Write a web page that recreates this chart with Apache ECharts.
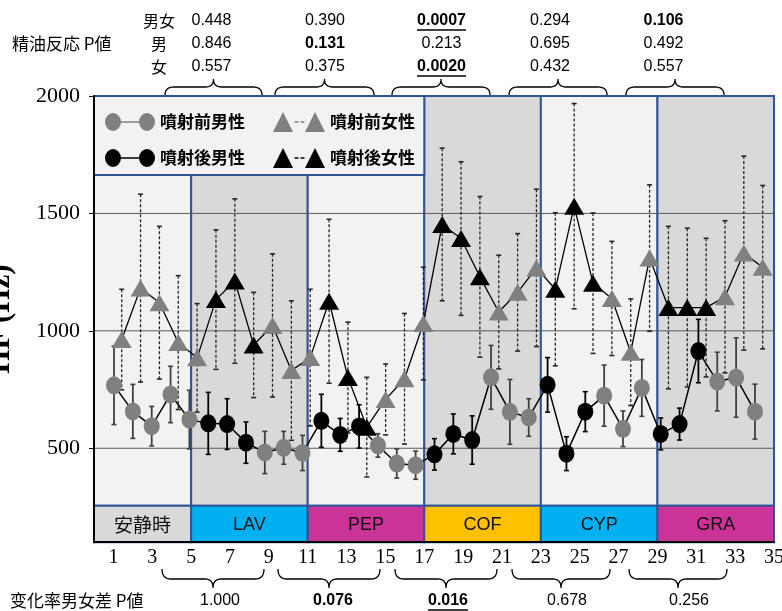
<!DOCTYPE html>
<html><head><meta charset="utf-8">
<script src="https://cdn.jsdelivr.net/npm/echarts@6/dist/echarts.min.js"></script>
<style>html,body{margin:0;padding:0;background:#fff}#c{width:782px;height:611px}</style>
</head><body><div id="c"></div>
<script>
// ---------------- data ----------------
const measures = [1,2,3,4,5,6,7,8,9,10,11,12,13,14,15,16,17,18,19,20,21,22,23,24,25,26,27,28,29,30,31,32,33,34,35];
const phase = ['前','前','前','前','前','後','後','後','前','前','前','後','後','後','前','前','前','後','後','後','前','前','前','後','後','後','前','前','前','後','後','後','前','前','前'];
const menMean = [768,657,594,729,622, 606,603,524, 482,502,480, 617,557,593, 512,435,428, 474,561,535, 802,655,631, 770,477,656, 724,583,757, 561,603,914, 784,801,656];
const menErr  = [167,115,84,120,125, 132,108,88, 90,70,75, 113,70,92, 50,62,60, 67,85,103, 136,138,80, 116,72,85, 130,76,121, 68,68,135, 125,169,117];
const womenMean = [963,1182,1120,950,885, 1133,1212,940, 1023,831,886, 1126,801,590, 708,796,1031, 1453,1393,1230, 1080,1164,1268, 1177,1531,1203, 1138,909,1310, 1099,1099,1099, 1145,1331,1271];
const womenErr  = [214,400,325,285,231, 297,350,224, 305,297,291, 349,236,212, 151,278,240, 325,327,342, 242,250,335, 326,437,299, 243,227,312, 346,338,295, 324,413,348];
const sessionNames = ['安静時','LAV','PEP','COF','CYP','GRA'];
const sessionBounds = [0,5,11,17,23,29,35];
const yTicks = [500,1000,1500,2000];
const gridValues = [500,1000,1500];
const pRowLabels = ['男女','男','女'];
const pBoth  = ['0.448','0.390','0.0007','0.294','0.106'];
const pMen   = ['0.846','0.131','0.213','0.695','0.492'];
const pWomen = ['0.557','0.375','0.0020','0.432','0.557'];
const pDiff  = ['1.000','0.076','0.016','0.678','0.256'];

// ---------------- layout / style ----------------
const yMin = 100, yMax = 2000, bandTop = 255, legendBoxBottom = 1664, legendBoxEnd = 17;
const sectionBg = ['#f2f2f2','#d9d9d9','#f2f2f2','#d9d9d9','#f2f2f2','#d9d9d9'];
const bandColors = ['#d9d9d9','#00b0f0','#cc3399','#ffc000','#00b0f0','#cc3399'];
const BLUE = '#2f5597';
const CJK = '"Noto Sans CJK JP"';
const SERIF = '"Liberation Serif"';

function hasFont(name){
  const c = document.createElement('canvas').getContext('2d');
  c.font = '40px monospace'; const w1 = c.measureText('0.448 LAV').width;
  c.font = '40px "' + name + '", monospace'; const w2 = c.measureText('0.448 LAV').width;
  return w1 !== w2;
}
const narrowOK = hasFont('Liberation Sans Narrow');
const NUM = narrowOK ? '"Liberation Sans Narrow"' : '"Liberation Sans"';
const numSize = narrowOK ? 19 : 16;
const bandSize = narrowOK ? 22 : 18;
const mctx = document.createElement('canvas').getContext('2d');
function textW(t, font){ mctx.font = font; return mctx.measureText(t).width; }

const chart = echarts.init(document.getElementById('c'), null, {renderer:'canvas'});

const menIcon = 'path://M0,9 A8,9 0 1 1 16,9 A8,9 0 1 1 0,9 Z M16,8.2 L34,8.2 L34,9.8 L16,9.8 Z M34,9 A8,9 0 1 1 50,9 A8,9 0 1 1 34,9 Z';
const womenIcon = 'path://M0,20 L10,0 L20,20 Z M21.5,9.2 L25.5,9.2 L25.5,10.8 L21.5,10.8 Z M27.5,9.2 L31.5,9.2 L31.5,10.8 L27.5,10.8 Z M32,20 L42,0 L52,20 Z';

function errRender(dashed){
  return function(params, api){
    const x = api.value(0), m = api.value(1), e = api.value(2), ph = api.value(3);
    const t = api.coord([x, m + e]), b = api.coord([x, m - e]);
    const col = dashed ? '#262626' : (ph ? '#000' : '#404040');
    const st = {stroke: col, lineWidth: dashed ? 1.3 : 1.8, lineDash: dashed ? [3, 2] : null};
    const cap = {stroke: col, lineWidth: 1.6};
    return {type:'group', children:[
      {type:'line', shape:{x1:t[0], y1:t[1], x2:b[0], y2:b[1]}, style:st},
      {type:'line', shape:{x1:t[0]-2.5, y1:t[1], x2:t[0]+2.5, y2:t[1]}, style:cap},
      {type:'line', shape:{x1:b[0]-2.5, y1:b[1], x2:b[0]+2.5, y2:b[1]}, style:cap}
    ]};
  };
}

function pick(arr, ph){ const out=[]; measures.forEach((n,i)=>{ if(phase[i]===ph) out.push([n, arr[i]]); }); return out; }

// ---- annotation graphics (p-value tables & braces) ----
function bez(p0, c, p2, n){ const pts=[]; for(let k=0;k<=n;k++){ const t=k/n, u=1-t; pts.push([u*u*p0[0]+2*u*t*c[0]+t*t*p2[0], u*u*p0[1]+2*u*t*c[1]+t*t*p2[1]]); } return pts; }
function brace(x0, x1, yE, yM, yT){
  const xc = (x0 + x1) / 2, r = 9, rt = 8;
  let pts = [];
  pts = pts.concat(bez([x0,yE],[x0,yM],[x0+r,yM],8));
  pts = pts.concat(bez([xc-rt,yM],[xc,yM],[xc,yT],8));
  pts = pts.concat(bez([xc,yT],[xc,yM],[xc+rt,yM],8));
  pts = pts.concat(bez([x1-r,yM],[x1,yM],[x1,yE],8));
  return {type:'polyline', shape:{points:pts}, style:{stroke:'#000', lineWidth:1.3, fill:null}, silent:true};
}
const graphics = [];
function addText(t, x, y, font, align){
  graphics.push({type:'text', x:x, y:y, silent:true, style:{text:t, font:font, fill:'#000', align:align||'center', verticalAlign:'middle'}});
}
function addP(v, x, y){
  const p = parseFloat(v);
  const bold = p < 0.15;
  const font = (bold ? 'bold ' : '') + numSize + 'px ' + NUM;
  addText(v, x, y, font);
  if (p < 0.05){
    const w = textW(v, font);
    graphics.push({type:'line', silent:true, shape:{x1:x-w/2, y1:y+9, x2:x+w/2, y2:y+9}, style:{stroke:'#000', lineWidth:1.4}});
  }
}
const topCols = [211.5, 325, 441.5, 550, 663.5];
const rowY = [21, 44, 67];
addText('精油反応 P値', 12, 44, '17px ' + CJK, 'left');
pRowLabels.forEach((l, r) => addText(l, 159, rowY[r], '16px ' + CJK));
[pBoth, pMen, pWomen].forEach((row, r) => row.forEach((v, c) => addP(v, topCols[c], rowY[r])));
const topBr = [[165,262],[275,374],[392,490],[509,607],[626,724]];
topBr.forEach(b => graphics.push(brace(b[0], b[1], 95, 87, 79)));
const botBr = [[162,264],[278,380],[395,497],[512,610],[629,727]];
botBr.forEach(b => graphics.push(brace(b[0], b[1], 569, 579, 588)));
const botCols = [220, 333, 448, 567, 689];
addText('变化率男女差 P値', 10, 601, '17px ' + CJK, 'left');
pDiff.forEach((v, c) => addP(v, botCols[c], 601));

const option = {
  animation: false,
  backgroundColor: '#fff',
  grid: {left: 94, right: 8, top: 96, bottom: 68.8, containLabel: false, outerBoundsMode: 'none'},
  xAxis: [
    {type:'value', min:-0.061, max:36.01, show:false},
    {type:'value', min:0, max:35, interval:1, position:'bottom', z:10,
     axisLine:{show:true, onZero:false, lineStyle:{color:'#000', width:2}},
     axisTick:{show:false}, splitLine:{show:false},
     axisLabel:{formatter: v => (v % 2 === 1 ? String(v) : ''), fontFamily:SERIF, fontSize:20, color:'#000', margin:6, showMaxLabel:true, showMinLabel:true}},
    {type:'value', min:-0.469, max:35.60, show:false}
  ],
  yAxis: {type:'value', min:yMin, max:yMax, z:10,
    axisLine:{show:true, onZero:false, lineStyle:{color:'#000', width:2}},
    axisTick:{show:true, length:5, customValues:yTicks, lineStyle:{color:'#000'}},
    axisLabel:{customValues:yTicks, formatter: v => String(v), fontFamily:SERIF, fontSize:22, color:'#000', margin:14},
    splitLine:{show:false},
    name:'HF (Hz)', nameLocation:'middle', nameGap:78, nameRotate:90,
    nameTextStyle:{fontFamily:SERIF, fontWeight:'bold', fontSize:31, color:'#000'}},
  legend: [
    {data:[{name:'噴射前男性', icon:menIcon},{name:'噴射後男性', icon:menIcon}], orient:'vertical', left:105, top:113, padding:0,
     itemWidth:50, itemHeight:18, itemGap:18, selectedMode:false, textStyle:{fontFamily:CJK, fontWeight:'bold', fontSize:17, color:'#000'}},
    {data:[{name:'噴射前女性', icon:womenIcon},{name:'噴射後女性', icon:womenIcon}], orient:'vertical', left:273, top:112, padding:0,
     itemWidth:52, itemHeight:20, itemGap:16, selectedMode:false, textStyle:{fontFamily:CJK, fontWeight:'bold', fontSize:17, color:'#000'}}
  ],
  graphic: graphics,
  series: [
    {type:'custom', name:'sections', xAxisIndex:1, z:0, silent:true, clip:false,
     data: sessionNames.map((n,i)=>[sessionBounds[i], sessionBounds[i+1], i]), encode:{x:[0,1]},
     renderItem:(params, api)=>{
       const s=api.value(0), e=api.value(1), i=api.value(2);
       const a=api.coord([s,yMax]), b=api.coord([e,bandTop]), c=api.coord([e,yMin]);
       return {type:'group', children:[
         {type:'rect', shape:{x:a[0], y:a[1], width:b[0]-a[0], height:b[1]-a[1]}, style:{fill:sectionBg[i], stroke:BLUE, lineWidth:2}},
         {type:'rect', shape:{x:a[0], y:b[1], width:b[0]-a[0], height:c[1]-b[1]}, style:{fill:bandColors[i], stroke:BLUE, lineWidth:2}},
         {type:'text', style:{text:sessionNames[i], x:(a[0]+b[0])/2, y:(b[1]+c[1])/2+1, align:'center', verticalAlign:'middle',
           font: (i===0 ? '19px ' + CJK : bandSize + 'px ' + NUM), fill:'#111'}}
       ]};
     }},
    {type:'custom', name:'grid', xAxisIndex:1, z:1, silent:true, clip:false,
     data: gridValues.map(v=>[0,35,v]), encode:{x:[0,1], y:2},
     renderItem:(params, api)=>{
       const a=api.coord([api.value(0), api.value(2)]), b=api.coord([api.value(1), api.value(2)]);
       return {type:'line', shape:{x1:a[0], y1:a[1], x2:b[0], y2:b[1]}, style:{stroke:'#595959', lineWidth:1}};
     }},
    {type:'custom', name:'legendBox', xAxisIndex:1, z:1, silent:true, clip:false,
     data:[[0, legendBoxEnd, legendBoxBottom, yMax]], encode:{x:[0,1], y:[2,3]},
     renderItem:(params, api)=>{
       const a=api.coord([api.value(0), api.value(3)]), b=api.coord([api.value(1), api.value(2)]);
       return {type:'rect', shape:{x:a[0], y:a[1], width:b[0]-a[0], height:b[1]-a[1]}, style:{fill:'#f2f2f2', stroke:BLUE, lineWidth:2}};
     }},
    {type:'line', name:'menLine', xAxisIndex:0, z:2, symbol:'none', silent:true,
     data: measures.map((n,i)=>[n, menMean[i]]), lineStyle:{color:'#000', width:1.5}},
    {type:'line', name:'womenLine', xAxisIndex:2, z:2, symbol:'none', silent:true,
     data: measures.map((n,i)=>[n, womenMean[i]]), lineStyle:{color:'#000', width:1.3}},
    {type:'custom', name:'menErr', xAxisIndex:0, z:3, silent:true, clip:false,
     data: measures.map((n,i)=>[n, menMean[i], menErr[i], phase[i]==='前'?0:1]), encode:{x:0, y:1},
     renderItem: errRender(false)},
    {type:'custom', name:'womenErr', xAxisIndex:2, z:3, silent:true, clip:false,
     data: measures.map((n,i)=>[n, womenMean[i], womenErr[i], phase[i]==='前'?0:1]), encode:{x:0, y:1},
     renderItem: errRender(true)},
    {type:'scatter', name:'噴射前男性', xAxisIndex:0, z:4, symbol:'circle', symbolSize:[16,18],
     itemStyle:{color:'#808080', opacity:1}, data: pick(menMean, '前')},
    {type:'scatter', name:'噴射後男性', xAxisIndex:0, z:4, symbol:'circle', symbolSize:[16,18],
     itemStyle:{color:'#000', opacity:1}, data: pick(menMean, '後')},
    {type:'scatter', name:'噴射前女性', xAxisIndex:2, z:5, symbol:'triangle', symbolSize:[20,17],
     itemStyle:{color:'#808080', opacity:1}, data: pick(womenMean, '前')},
    {type:'scatter', name:'噴射後女性', xAxisIndex:2, z:5, symbol:'triangle', symbolSize:[20,17],
     itemStyle:{color:'#000', opacity:1}, data: pick(womenMean, '後')}
  ]
};
chart.setOption(option);
</script></body></html>
